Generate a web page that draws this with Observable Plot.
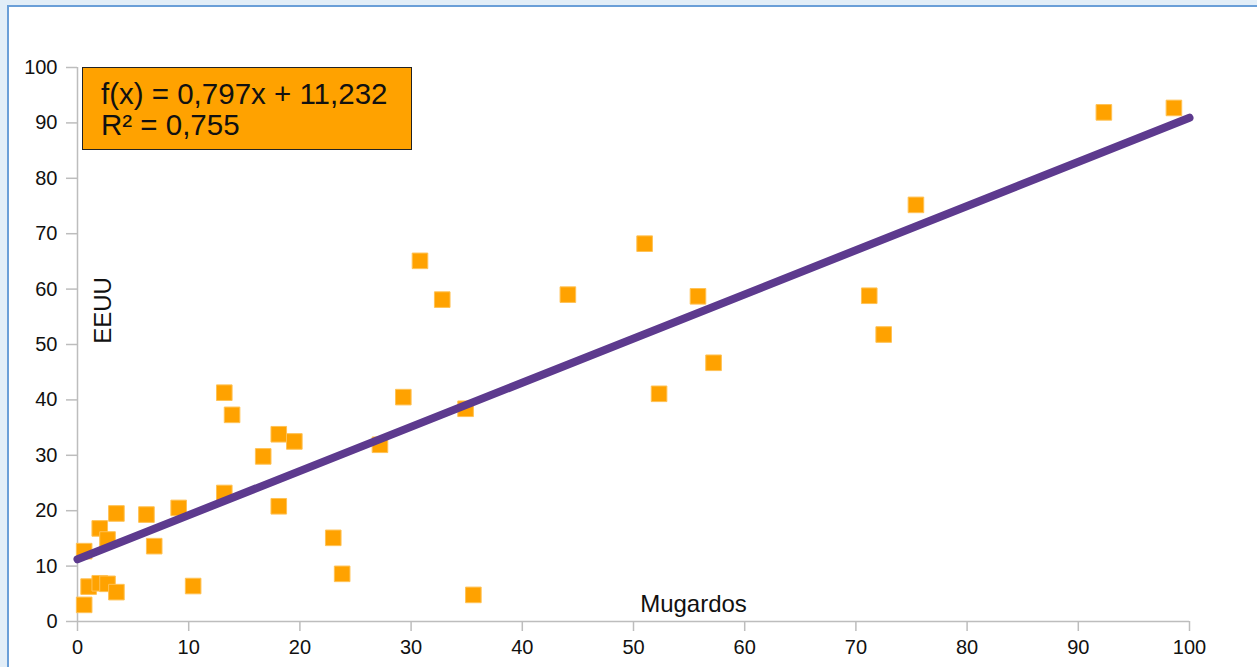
<!DOCTYPE html>
<html>
<head>
<meta charset="utf-8">
<script src="https://cdn.jsdelivr.net/npm/d3@7"></script>
<script src="https://cdn.jsdelivr.net/npm/@observablehq/plot@0.6"></script>
<style>
  html, body { margin: 0; padding: 0; background: #e2eef8; width: 1257px; height: 667px; overflow: hidden; }
  #frame { position: absolute; left: 7px; top: 5px; width: 1260px; height: 670px; background: #fff;
           border-top: 2px solid #6a9fd8; border-left: 2px solid #6a9fd8; }
  #chart { position: absolute; left: 0; top: 0; }
  #eq { position: absolute; left: 82px; top: 67px; width: 330px; height: 83px; background: #ffa200;
        border: 1.5px solid #222; box-sizing: border-box; font-family: "Liberation Sans", Arial, sans-serif;
        font-size: 29.5px; line-height: 31px; color: #111; padding: 10px 0 0 18px; white-space: nowrap; }
</style>
</head>
<body>
<div id="frame"></div>
<div id="chart"></div>
<div id="eq"><div id="eq1"></div><div id="eq2"></div></div>
<script>
// Mugardos (x) vs EEUU (y)
const mugardos = [0.6, 0.6, 1.0, 2.0, 2.0, 2.7, 2.7, 3.5, 3.5, 6.2, 6.9, 9.1, 10.4, 13.2, 13.2, 13.9, 16.7, 18.1, 18.1, 19.5, 23.0, 23.8, 27.2, 29.3, 30.8, 32.8, 34.9, 35.6, 44.1, 51.0, 52.3, 55.8, 57.2, 71.2, 72.5, 75.4, 92.3, 98.6];
const eeuu     = [12.7, 3.0, 6.3, 16.8, 6.9, 14.8, 6.8, 19.5, 5.3, 19.3, 13.6, 20.5, 6.4, 41.3, 23.2, 37.3, 29.8, 33.8, 20.8, 32.5, 15.1, 8.6, 31.9, 40.5, 65.1, 58.1, 38.4, 4.8, 59.0, 68.2, 41.1, 58.7, 46.7, 58.8, 51.8, 75.2, 91.9, 92.7];
const slope = 0.797;
const intercept = 11.232;
const rSquared = 0.755;
const trendRange = [0, 100];
const xTicks = [0, 10, 20, 30, 40, 50, 60, 70, 80, 90, 100];
const yTicks = [0, 10, 20, 30, 40, 50, 60, 70, 80, 90, 100];
const xLabel = "Mugardos";
const yLabel = "EEUU";

const fmt = v => String(v).replace(".", ",");
document.getElementById("eq1").textContent = `f(x) = ${fmt(slope)}x + ${fmt(intercept)}`;
document.getElementById("eq2").textContent = `R² = ${fmt(rSquared)}`;

const points = mugardos.map((x, i) => ({x, y: eeuu[i]}));
const trend = trendRange.map(x => ({x, y: slope * x + intercept}));

const chart = Plot.plot({
  width: 1257,
  height: 667,
  marginLeft: 77,
  marginRight: 68,
  marginTop: 67,
  marginBottom: 46,
  x: {domain: [0, 100]},
  y: {domain: [0, 100]},
  style: {background: "transparent", fontFamily: "'Liberation Sans', Arial, sans-serif", color: "#111"},
  marks: [
    Plot.ruleX([0], {stroke: "#bdbdbd", strokeWidth: 1.5}),
    Plot.ruleY([0], {stroke: "#bdbdbd", strokeWidth: 1.5}),
    Plot.axisX(xTicks, {tickSize: 10, tickPadding: 8, stroke: "#bdbdbd", strokeWidth: 1.5, fill: "#111", fontSize: 20, label: null}),
    Plot.axisY(yTicks, {tickSize: 11, tickPadding: 9, stroke: "#bdbdbd", strokeWidth: 1.5, fill: "#111", fontSize: 20, label: null}),
    Plot.text([xLabel], {frameAnchor: "bottom", dx: 60, dy: -10, fontSize: 24, fill: "#111"}),
    Plot.text([yLabel], {frameAnchor: "left", textAnchor: "middle", rotate: -90, dx: 26, dy: -34, fontSize: 24, fill: "#111"}),
    Plot.dot(points, {x: "x", y: "y", symbol: "square", r: 8.8, fill: "#ffa200", stroke: "#ffc255", strokeWidth: 1}),
    Plot.line(trend, {x: "x", y: "y", stroke: "#5d3a8e", strokeWidth: 8})
  ]
});
document.getElementById("chart").appendChild(chart);
</script>
</body>
</html>
